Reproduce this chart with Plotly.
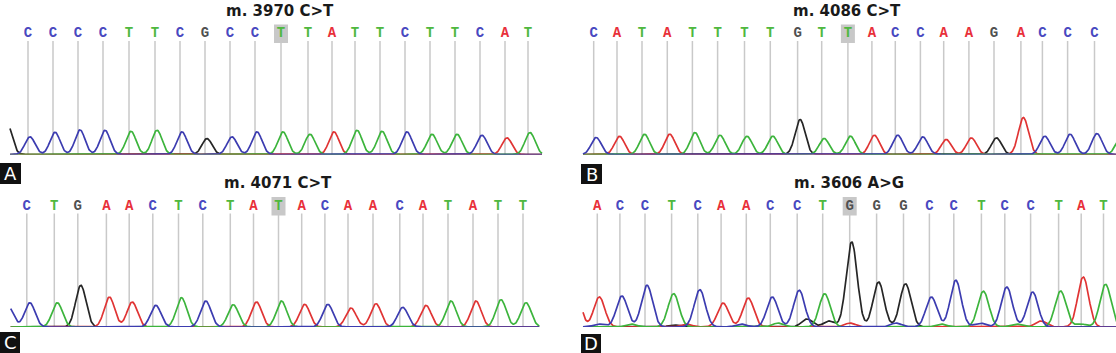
import numpy as np
import plotly.graph_objects as go

# ---------------- data ----------------
# Panel A
A_title = "m. 3970 C>T"
A_bases = list("CCCCTTCGCCTTATTCTTCAT")
A_pos = [28, 53, 78, 103, 129, 155, 180, 205, 230, 255, 281, 308, 332, 355, 380, 405, 430, 455, 480, 505, 528]
A_height = [17.6, 22.3, 24.6, 24.3, 23.3, 24.3, 22.6, 16, 17.6, 22.6, 22.6, 20.3, 22.6, 24.3, 23.3, 22.6, 20.3, 20.3, 19.3, 16.6, 22]
A_hl = 10
A_extra_base = ["G"]
A_extra_pos = [7]
A_extra_h = [31]

# Panel B
B_title = "m. 4086 C>T"
B_bases = list("CATATTTTGTTACCAAGACCCT")
B_pos = [37.7, 61, 86, 111.3, 136.4, 161.6, 188.5, 214.3, 241.6, 265.7, 291.9, 315.9, 339.3, 364.4, 387.7, 412.9, 438, 464.9, 486.4, 511.6, 538.5, 562]
B_height = [17, 18.3, 20.3, 20.3, 22, 19.3, 18.3, 18.3, 35, 16, 18.3, 19.3, 19.3, 17.6, 15, 16.6, 16.6, 37, 18.3, 20.3, 21, 16]
B_hl = 10
B_extra_base = []
B_extra_pos = []
B_extra_h = []

# Panel C
C_title = "m. 4071 C>T"
C_bases = list("CTGAACTCTATACAACATATT")
C_pos = [26.8, 54.3, 77.8, 106.4, 129.2, 152.8, 178.5, 202.8, 230.3, 253.5, 278.5, 301.7, 324.9, 348, 373, 399.8, 423, 448, 473, 498, 523]
C_height = [24.3, 24.3, 41.7, 30, 25, 21.7, 29.3, 26, 22.3, 25, 26, 22.7, 22.7, 19, 23.3, 19.7, 21.7, 26, 26, 27.3, 24.3]
C_hl = 10
C_extra_base = ["C"]
C_extra_pos = [8]
C_extra_h = [21]

# Panel D
D_title = "m. 3606 A>G"
D_bases = list("ACCTCAACCTGGGCCTCCTAT")
D_pos = [41.3, 63.9, 89, 115.6, 141.8, 165.1, 190.3, 214.3, 241.2, 266.7, 293.7, 320.6, 347.5, 373.4, 397.8, 425.4, 448.8, 474.6, 502.6, 525.2, 547.5]
D_height = [30, 31, 41.7, 33.3, 37.3, 24, 29, 30, 36.7, 33.3, 85, 45, 43.3, 30, 46.7, 35.7, 40, 35, 36, 50, 42.7]
D_hl = 10
D_extra_base = ["A", "C", "T", "G", "A", "C", "T", "G", "G", "A", "C", "T", "C", "T", "A", "T"]
D_extra_pos = [18, 43, 75, 118, 130, 185, 222, 251, 273, 294, 340, 385, 424, 460, 485, 525]
D_extra_h = [55, 3, 3, 2, 3, 3, 4, 8, 6, 4, 4, 3, 4, 3, 6, 3]

panel_labels = ["A", "B", "C", "D"]

# ---------------- style / layout ----------------
W, H = 1116, 353
TRACE_COL = {"G": "#262626", "A": "#e03434", "T": "#3cb43c", "C": "#3c3cb0"}
LETTER_COL = {"A": "#e8303a", "C": "#4848c0", "G": "#505050", "T": "#4fb83f"}
DRAW_ORDER = ["G", "A", "T", "C"]

panels = [
    dict(title=A_title, bases=A_bases, pos=A_pos, h=A_height, hl=A_hl,
         eb=A_extra_base, ep=A_extra_pos, eh=A_extra_h,
         xpx=(0, 556), base_px=154.5, shift=2.0, sigma=5.0, span=(10, 542),
         box=(0, 163, 21, 184)),
    dict(title=B_title, bases=B_bases, pos=B_pos, h=B_height, hl=B_hl,
         eb=B_extra_base, ep=B_extra_pos, eh=B_extra_h,
         xpx=(556, 1116), base_px=154.5, shift=2.5, sigma=5.0, span=(27, 575),
         box=(581, 164, 602, 184)),
    dict(title=C_title, bases=C_bases, pos=C_pos, h=C_height, hl=C_hl,
         eb=C_extra_base, ep=C_extra_pos, eh=C_extra_h,
         xpx=(0, 556), base_px=327, shift=3.0, sigma=5.2, span=(10.7, 539),
         box=(0, 332, 20, 353)),
    dict(title=D_title, bases=D_bases, pos=D_pos, h=D_height, hl=D_hl,
         eb=D_extra_base, ep=D_extra_pos, eh=D_extra_h,
         xpx=(556, 1116), base_px=327, shift=2.0, sigma=5.5, span=(27, 575),
         box=(581, 334, 601, 353)),
]

YR = 154.5       # visible signal range per panel
LET_Y = 121      # letter row (signal units above baseline)
LINE_TOP = 113.5
TITLE_Y = 144

fig = go.Figure()
layout_axes = {}
shapes = []
annotations = []

for i, p in enumerate(panels):
    n = i + 1
    xa = "x" if n == 1 else f"x{n}"
    ya = "y" if n == 1 else f"y{n}"
    xk = "xaxis" if n == 1 else f"xaxis{n}"
    yk = "yaxis" if n == 1 else f"yaxis{n}"
    x0px, x1px = p["xpx"]
    layout_axes[xk] = dict(domain=[x0px / W, x1px / W], range=[0, x1px - x0px],
                           visible=False, fixedrange=True, anchor=ya)
    top_px = p["base_px"] - YR
    layout_axes[yk] = dict(domain=[1 - p["base_px"] / H, 1 - top_px / H], range=[0, YR],
                           visible=False, fixedrange=True, anchor=xa)

    # chromatogram curves
    xs = np.arange(p["span"][0], p["span"][1] + 0.25, 0.5)
    all_b = p["bases"] + p["eb"]
    all_p = [v + p["shift"] for v in p["pos"]] + p["ep"]
    all_h = p["h"] + p["eh"]
    for ch in DRAW_ORDER:
        ys = np.zeros_like(xs)
        for b, pp, hh in zip(all_b, all_p, all_h):
            if b == ch:
                ys += hh * np.exp(-0.5 * ((xs - pp) / p["sigma"]) ** 2)
        fig.add_trace(go.Scatter(x=xs, y=ys, mode="lines", xaxis=xa, yaxis=ya,
                                 line=dict(color=TRACE_COL[ch], width=1.7),
                                 hoverinfo="skip", showlegend=False))

    # base-call lines
    for v in p["pos"]:
        shapes.append(dict(type="line", xref=xa, yref=ya, x0=v, x1=v, y0=0, y1=LINE_TOP,
                           line=dict(color="#c9c9c9", width=1.5), layer="below"))
    hv = p["pos"][p["hl"]]
    shapes.append(dict(type="rect", xref=xa, yref=ya, x0=hv - 7, x1=hv + 7,
                       y0=LET_Y - 9.5, y1=LET_Y + 9, fillcolor="#c8c8c8",
                       line=dict(width=0), layer="below"))

    # letters
    fig.add_trace(go.Scatter(x=p["pos"], y=[LET_Y] * len(p["pos"]), mode="text",
                             text=p["bases"], xaxis=xa, yaxis=ya, cliponaxis=False,
                             textfont=dict(family="Liberation Mono", size=14, weight="bold",
                                           color=[LETTER_COL[b] for b in p["bases"]]),
                             hoverinfo="skip", showlegend=False))

    # title
    annotations.append(dict(xref=xa, yref=ya, x=hv - 1, y=TITLE_Y, text=p["title"],
                            showarrow=False, xanchor="center", yanchor="middle",
                            font=dict(family="DejaVu Sans", size=15, weight="bold",
                                      color="#1a1a1a")))

    # panel label box
    bx0, by0, bx1, by1 = p["box"]
    shapes.append(dict(type="rect", xref="paper", yref="paper",
                       x0=bx0 / W, x1=bx1 / W, y0=1 - by1 / H, y1=1 - by0 / H,
                       fillcolor="#111111", line=dict(width=0)))
    annotations.append(dict(xref="paper", yref="paper", x=(bx0 + bx1) / 2 / W,
                            y=1 - (by0 + by1) / 2 / H, text=panel_labels[i], showarrow=False,
                            xanchor="center", yanchor="middle",
                            font=dict(family="DejaVu Sans", size=18, color="white")))

fig.update_layout(width=W, height=H, margin=dict(l=0, r=0, t=0, b=0),
                  paper_bgcolor="white", plot_bgcolor="white", showlegend=False,
                  shapes=shapes, annotations=annotations, **layout_axes)

fig.write_html("out.html", config={"displayModeBar": False})
